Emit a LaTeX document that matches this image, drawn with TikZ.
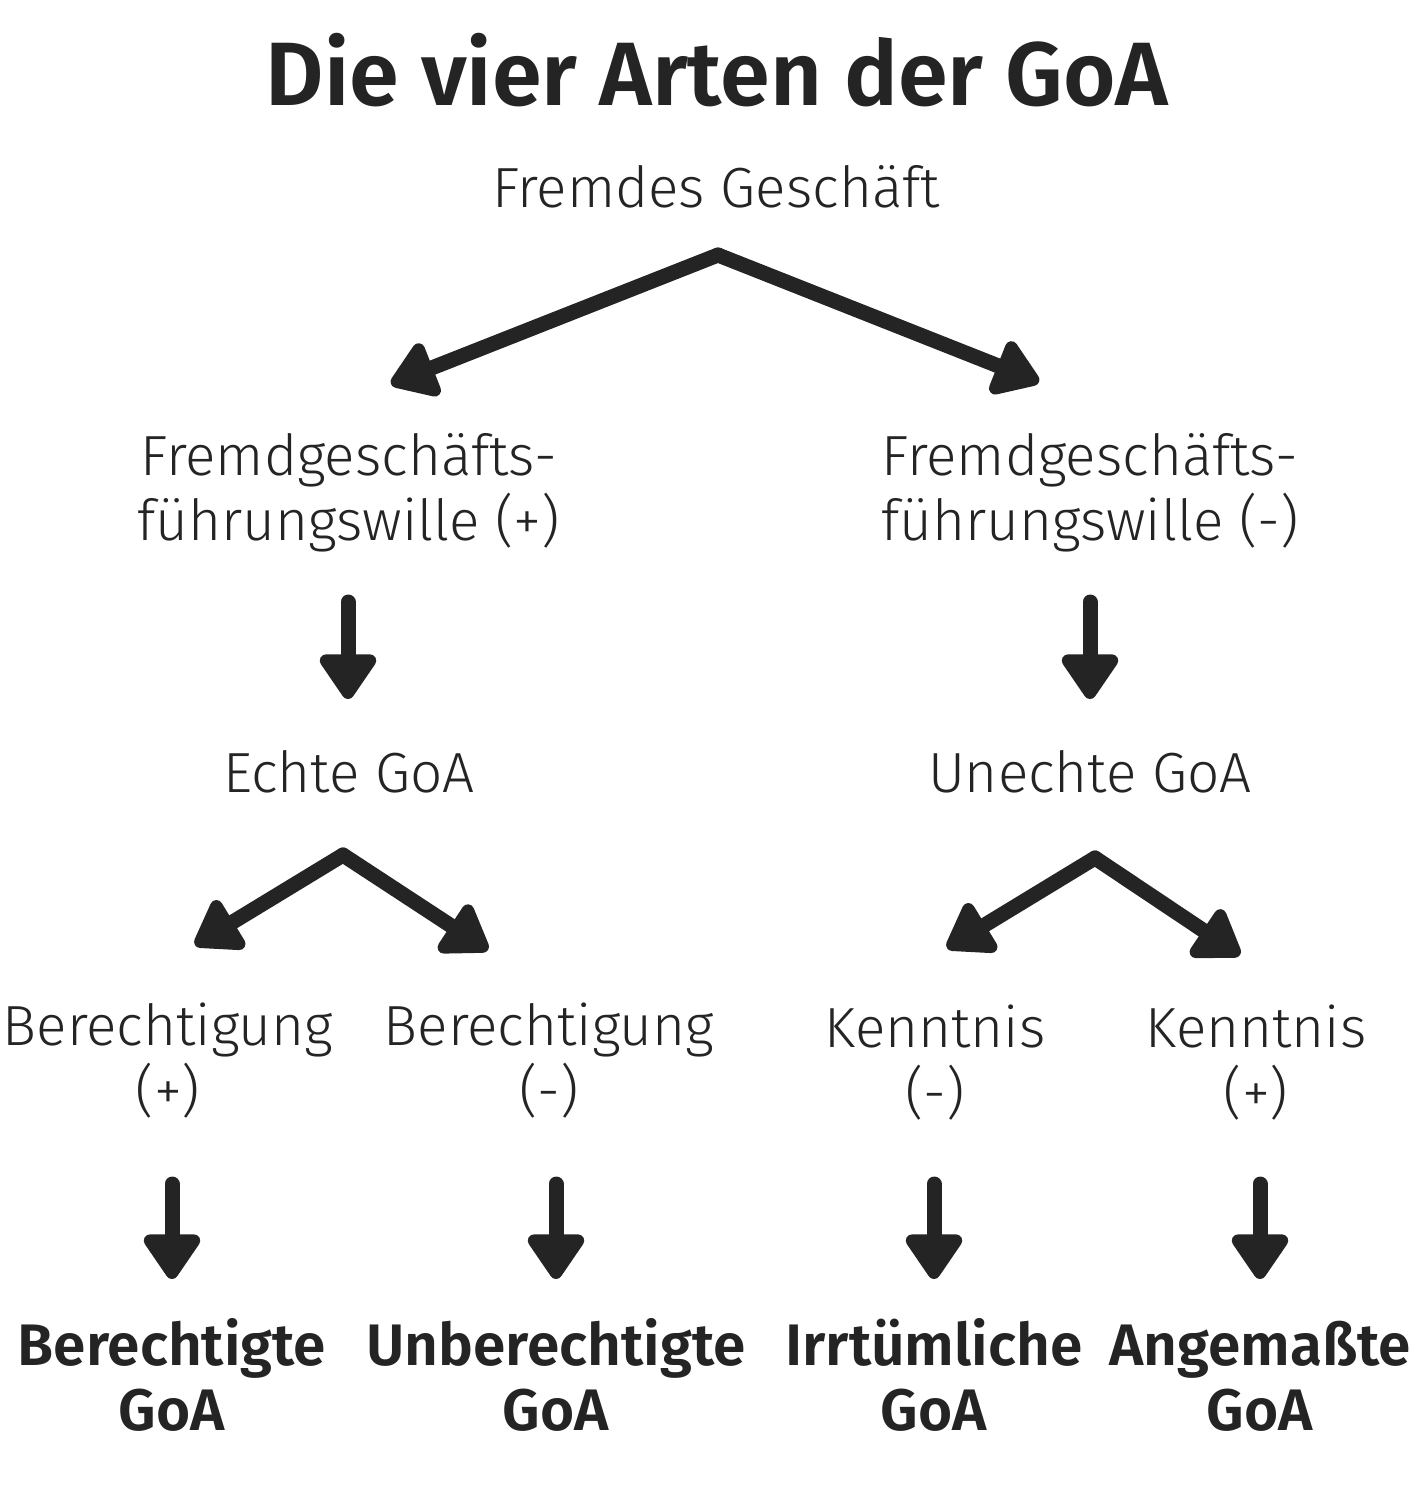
\documentclass[tikz,border=0pt]{standalone}
\usepackage{fontspec}
\setmainfont{Fira Sans}[UprightFont=* Light, BoldFont=* SemiBold]
\usetikzlibrary{arrows.meta}
\definecolor{ink}{HTML}{242424}
\begin{document}
\begin{tikzpicture}[x=0.5pt,y=-0.5pt,
  txt/.style={font=\fontsize{28.3}{32.5}\selectfont, text=ink, align=center, inner sep=0pt, anchor=base},
  bld/.style={txt, font=\bfseries\fontsize{29.3}{32.5}\selectfont},
  ttl/.style={txt, font=\bfseries\fontsize{45}{50}\selectfont},
  arr/.style={draw=ink, line width=7.5pt, line cap=round, line join=round, -{Triangle[length=25pt,width=32pt,round]}}]
\useasboundingbox (0,0) rectangle (1414,1490);
% texts
\node[ttl] (title) at (717,105) {Die vier Arten der GoA};
\node[txt] (fg) at (716,207) {Fremdes Geschäft};
\node[txt] (fgwp) at (349,540) {Fremdgeschäfts-\\führungswille (+)};
\node[txt] (fgwm) at (1090,540) {Fremdgeschäfts-\\führungswille (-)};
\node[txt] (echt) at (349,792) {Echte GoA};
\node[txt] (unecht) at (1090,792) {Unechte GoA};
\node[txt] (berp) at (168,1110) {Berechtigung\\(+)};
\node[txt] (berm) at (549,1110) {Berechtigung\\(-)};
\node[txt] (kenm) at (935,1112) {Kenntnis\\(-)};
\node[txt] (kenp) at (1256,1112) {Kenntnis\\(+)};
\node[bld] (r1) at (172,1430) {Berechtigte\\GoA};
\node[bld] (r2) at (556,1430) {Unberechtigte\\GoA};
\node[bld] (r3) at (934,1430) {Irrtümliche\\GoA};
\node[bld] (r4) at (1260,1430) {Angemaßte\\GoA};
% arrow points
\coordinate (tA) at (718,255);
\coordinate (tL) at (391,384);
\coordinate (tR) at (1039,382);
\coordinate (vL1) at (348,602);
\coordinate (vL2) at (348,699);
\coordinate (vR1) at (1090,602);
\coordinate (vR2) at (1090,699);
\coordinate (eA) at (343,855);
\coordinate (eL) at (195,945);
\coordinate (eR) at (488,950);
\coordinate (uA) at (1095,858);
\coordinate (uL) at (947,948);
\coordinate (uR) at (1240,955);
\foreach \i/\x in {1/172,2/556,3/934,4/1260}{
  \coordinate (b\i s) at (\x,1184);
  \coordinate (b\i e) at (\x,1279);
}
% arrows
\draw[arr] (tA) -- (tL);
\draw[arr] (tA) -- (tR);
\draw[arr] (vL1) -- (vL2);
\draw[arr] (vR1) -- (vR2);
\draw[arr] (eA) -- (eL);
\draw[arr] (eA) -- (eR);
\draw[arr] (uA) -- (uL);
\draw[arr] (uA) -- (uR);
\foreach \i in {1,2,3,4}{\draw[arr] (b\i s) -- (b\i e);}
\end{tikzpicture}
\end{document}
